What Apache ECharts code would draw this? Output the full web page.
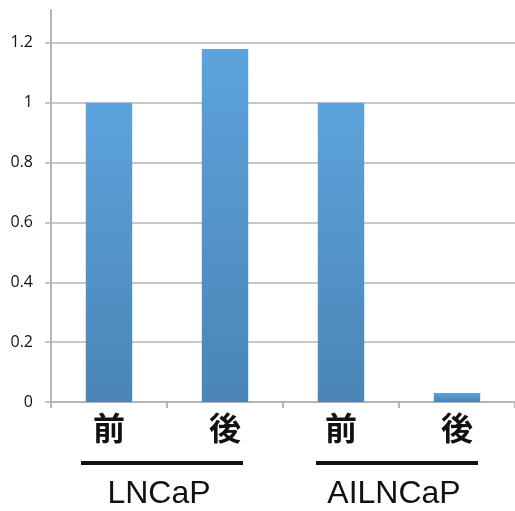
<!DOCTYPE html>
<html>
<head>
<meta charset="utf-8">
<style>
  html, body { margin: 0; padding: 0; background: #fff; }
  #chart { width: 515px; height: 511px; }
</style>
<script src="https://cdn.jsdelivr.net/npm/echarts@6/dist/echarts.min.js"></script>
</head>
<body>
<div id="chart"></div>
<script>
// Bar labels (before / after) and the cell line each pair belongs to
const categories = ['前', '後', '前', '後'];
const values = [1.0, 1.18, 1.0, 0.03];
const groups = ['LNCaP', 'AILNCaP'];
const groupMembers = [[0, 1], [2, 3]];
const yTicks = [0, 0.2, 0.4, 0.6, 0.8, 1.0, 1.2];

const chart = echarts.init(document.getElementById('chart'));

const barColor = new echarts.graphic.LinearGradient(0, 0, 0, 1, [
  { offset: 0, color: '#5da3dc' },
  { offset: 1, color: '#4a85b6' }
]);

chart.setOption({
  animation: false,
  backgroundColor: '#ffffff',
  grid: { left: 51, right: -5, top: 10, bottom: 109 },
  xAxis: {
    type: 'category',
    data: categories,
    axisLine: { lineStyle: { color: '#b5b5b5', width: 2 } },
    axisTick: { show: true, length: 6, lineStyle: { color: '#b5b5b5', width: 2 } },
    axisLabel: {
      color: '#111',
      fontFamily: 'Noto Sans CJK JP',
      fontSize: 32,
      fontWeight: 'bold',
      margin: 10
    }
  },
  yAxis: {
    type: 'value',
    min: 0,
    max: 1.31,
    interval: 0.2,
    axisLine: { show: true, lineStyle: { color: '#b5b5b5', width: 2 } },
    axisTick: { show: true, length: 6, customValues: yTicks, lineStyle: { color: '#b5b5b5', width: 1.5 } },
    splitLine: { show: true, lineStyle: { color: '#b5b5b5', width: 1.5 } },
    axisLabel: {
      customValues: yTicks,
      color: '#111',
      fontFamily: 'Open Sans',
      fontSize: 16,
      margin: 18,
      formatter: v => String(Math.round(v * 10) / 10)
    }
  },
  series: [{
    type: 'bar',
    data: values,
    barCategoryGap: '60%',
    itemStyle: { color: barColor }
  }]
});

// Bracket line and cell-line name under each pair of bars
function drawGroups() {
  const reach = [[28, 18], [25, 21]];
  const elements = [];
  groups.forEach((name, i) => {
    const [a, b] = groupMembers[i];
    const xa = chart.convertToPixel({ xAxisIndex: 0 }, a);
    const xb = chart.convertToPixel({ xAxisIndex: 0 }, b);
    const x1 = xa - reach[i][0];
    const x2 = xb + reach[i][1];
    const yLine = 463;
    elements.push({
      type: 'line',
      shape: { x1: x1, y1: yLine, x2: x2, y2: yLine },
      style: { stroke: '#111', lineWidth: 4 }
    });
    elements.push({
      type: 'text',
      x: (x1 + x2) / 2 - 3,
      y: 494,
      style: {
        text: name,
        fill: '#111',
        font: '32px "Liberation Sans", Arial, sans-serif',
        align: 'center',
        verticalAlign: 'middle'
      }
    });
  });
  chart.setOption({ graphic: elements });
}
drawGroups();
</script>
</body>
</html>
